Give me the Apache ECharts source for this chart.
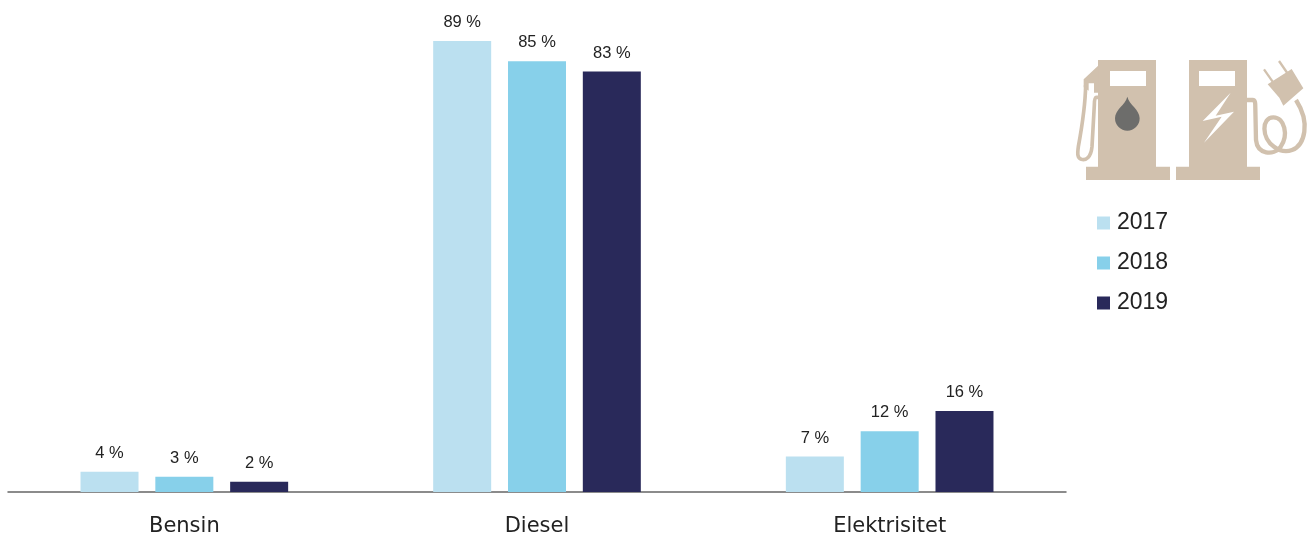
<!DOCTYPE html>
<html>
<head>
<meta charset="utf-8">
<style>html,body{margin:0;padding:0;background:#fff}#chart{width:1312px;height:533px}</style>
<script src="https://cdn.jsdelivr.net/npm/echarts@6/dist/echarts.min.js"></script>
</head>
<body>
<div id="chart"></div>
<script>
const categories = ['Bensin', 'Diesel', 'Elektrisitet'];
const seriesNames = ['2017', '2018', '2019'];
const values2017 = [4, 89, 7];
const values2018 = [3, 85, 12];
const values2019 = [2, 83, 16];
const seriesColors = ['#bbe0f0', '#87d0ea', '#29295a'];
const fontFamily = '"Liberation Sans", Arial, sans-serif';
const categoryFont = '"DejaVu Sans", sans-serif';
const tan = '#d1c1ae';

// SVG outlines used by the pictograms, registered as named shapes
const iconPaths = {
  fuelDrop: 'M172 140 C178 165 209 178 209 205 A37 37 0 0 1 135 205 C135 178 166 165 172 140 Z',
  fuelHose: 'M84 142 L79 142 C74 142 73 150 73 165 L66 290 C63 322 48 332 34 328 C22 324 22 312 25 290 C36 230 46 170 47 105',
  chargeCable: 'M531 150 L548 150 C556 150 556 160 556 175 L558 270 C562 312 610 320 632 290 C656 256 644 202 610 202 C574 202 574 264 612 290 C644 314 694 308 703 245 C708 210 694 175 678 150'
};
Object.keys(iconPaths).forEach((name) => {
  echarts.graphic.registerShape(name, echarts.graphic.extendPath(iconPaths[name], {}));
});

const barSeries = [values2017, values2018, values2019].map((data, i) => ({
  name: seriesNames[i],
  type: 'bar',
  data,
  barWidth: 58,
  barGap: '29%',
  itemStyle: { color: seriesColors[i] },
  label: {
    show: true,
    position: 'top',
    distance: 10,
    formatter: '{c} %',
    fontFamily,
    fontSize: 16.5,
    color: '#222'
  }
}));

// Fuel-pump and charger pictograms, drawn on a 3x grid for finer control
const icons = {
  type: 'group',
  x: 1070,
  y: 50,
  scaleX: 1 / 3,
  scaleY: 1 / 3,
  children: [
    { type: 'rect', shape: { x: 84, y: 30, width: 174, height: 322 }, style: { fill: tan } },
    { type: 'rect', shape: { x: 48, y: 350, width: 252, height: 40 }, style: { fill: tan } },
    { type: 'rect', shape: { x: 120, y: 63, width: 108, height: 45 }, style: { fill: '#fff' } },
    { type: 'fuelDrop', style: { fill: '#6d6d6b' } },
    { type: 'polygon', shape: { points: [[86, 46], [41, 88], [41, 112], [56, 122], [56, 100], [72, 100], [72, 128], [86, 128]] }, style: { fill: tan } },
    { type: 'fuelHose', style: { fill: 'none', stroke: tan, lineWidth: 11 } },

    { type: 'rect', shape: { x: 357, y: 30, width: 174, height: 322 }, style: { fill: tan } },
    { type: 'rect', shape: { x: 318, y: 350, width: 252, height: 40 }, style: { fill: tan } },
    { type: 'rect', shape: { x: 387, y: 63, width: 108, height: 45 }, style: { fill: '#fff' } },
    { type: 'polygon', shape: { points: [[482, 128], [398, 213], [455, 200], [402, 278], [492, 185], [437, 197]] }, style: { fill: '#fff' } },
    { type: 'chargeCable', style: { fill: 'none', stroke: tan, lineWidth: 13 } },
    { type: 'polygon', shape: { points: [[593, 103], [665, 57], [700, 115], [640, 167], [628, 143]] }, style: { fill: tan } },
    { type: 'line', shape: { x1: 582, y1: 58, x2: 610, y2: 98 }, style: { stroke: tan, lineWidth: 7 } },
    { type: 'line', shape: { x1: 627, y1: 33, x2: 654, y2: 72 }, style: { stroke: tan, lineWidth: 7 } }
  ]
};

const chart = echarts.init(document.getElementById('chart'));
chart.setOption({
  animation: false,
  backgroundColor: '#fff',
  grid: { left: 8, right: 246, top: 36, bottom: 41, outerBoundsMode: 'none' },
  legend: {
    orient: 'vertical',
    left: 1097,
    top: 209,
    padding: 0,
    itemWidth: 13,
    itemHeight: 13,
    itemGap: 12,
    icon: 'rect',
    data: seriesNames,
    textStyle: { fontFamily, fontSize: 23, color: '#222', height: 26, lineHeight: 26, padding: [0, 0, 2, 2] }
  },
  xAxis: {
    type: 'category',
    data: categories,
    axisTick: { show: false },
    axisLine: { lineStyle: { color: '#666', width: 1.5 } },
    axisLabel: { fontFamily: categoryFont, fontSize: 21, color: '#222', margin: 24 }
  },
  yAxis: { type: 'value', min: 0, max: 90, show: false, splitLine: { show: false } },
  series: barSeries,
  graphic: [icons]
});
</script>
</body>
</html>
